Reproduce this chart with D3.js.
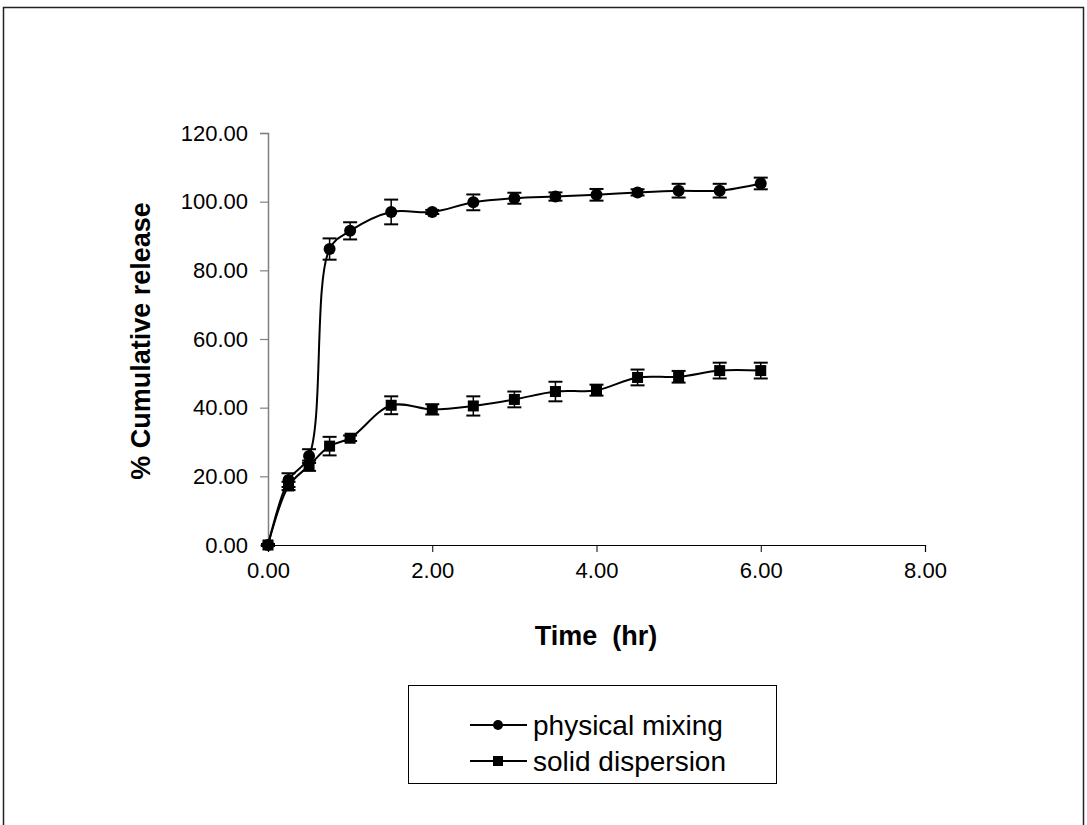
<!DOCTYPE html>
<html>
<head>
<meta charset="utf-8">
<script src="https://cdn.jsdelivr.net/npm/d3@7"></script>
<style>
  html, body { margin: 0; padding: 0; background: #fff; }
  svg { display: block; }
  text { font-family: "Liberation Sans", Arial, sans-serif; fill: #000; }
</style>
</head>
<body>
<svg id="chart" width="1087" height="825"></svg>
<script>
// Sampling times (hr)
const timePoints = [0, 0.25, 0.5, 0.75, 1, 1.5, 2, 2.5, 3, 3.5, 4, 4.5, 5, 5.5, 6];

// % cumulative release, physical mixing
const physicalMixing = [0, 18.9, 25.9, 86.2, 91.5, 97.0, 97.0, 99.8, 101.0, 101.5, 102.0, 102.7, 103.2, 103.2, 105.3];
const physicalMixingErr = [0.3, 2.0, 2.0, 3.1, 2.5, 3.6, 0.6, 2.3, 1.6, 1.2, 1.7, 0.9, 2.0, 2.0, 1.7];

// % cumulative release, solid dispersion
const solidDispersion = [0, 17.2, 23.1, 28.8, 31.1, 40.7, 39.5, 40.5, 42.4, 44.7, 45.1, 48.8, 49.0, 50.8, 50.8];
const solidDispersionErr = [0.3, 1.2, 1.5, 2.7, 0.8, 2.6, 1.5, 2.8, 2.3, 2.85, 1.6, 2.3, 1.7, 2.3, 2.3];

const xTicks = [0, 2, 4, 6, 8];
const yTicks = [0, 20, 40, 60, 80, 100, 120];
const seriesNames = ["physical mixing", "solid dispersion"];

const svg = d3.select("#chart");

// outer frame
svg.append("rect")
  .attr("x", 3.5).attr("y", 7.5)
  .attr("width", 1080).attr("height", 830)
  .attr("fill", "none").attr("stroke", "#222").attr("stroke-width", 1.5);

const x = d3.scaleLinear().domain([0, 8]).range([268, 925]);
const y = d3.scaleLinear().domain([0, 120]).range([545, 133]);

// y axis (grey)
const yAxis = svg.append("g")
  .attr("transform", `translate(${x(0)},0)`)
  .call(d3.axisLeft(y).tickValues(yTicks).tickFormat(d3.format(".2f")).tickSize(8).tickPadding(12));
yAxis.select(".domain").attr("stroke", "#808080").attr("stroke-width", 1.5);
yAxis.selectAll(".tick line").attr("stroke", "#808080").attr("stroke-width", 1.2);
yAxis.selectAll(".tick text")
  .attr("font-size", 22).attr("fill", "#000")
  .style("font-family", "'Liberation Sans', Arial, sans-serif");

// x axis (black)
const xAxis = svg.append("g")
  .attr("transform", `translate(0,${y(0)})`)
  .call(d3.axisBottom(x).tickValues(xTicks).tickFormat(d3.format(".2f")).tickSize(7).tickPadding(10));
xAxis.select(".domain").attr("stroke", "#000").attr("stroke-width", 1.2);
xAxis.selectAll(".tick line").attr("stroke", "#000").attr("stroke-width", 1);
xAxis.selectAll(".tick text")
  .attr("font-size", 22).attr("fill", "#000")
  .style("font-family", "'Liberation Sans', Arial, sans-serif");

// axis titles
svg.append("text")
  .attr("x", 596).attr("y", 645)
  .attr("text-anchor", "middle")
  .attr("font-size", 27).attr("font-weight", "bold")
  .attr("xml:space", "preserve")
  .text("Time  (hr)");

svg.append("text")
  .attr("transform", `translate(150,${(133 + 545) / 2 + 2}) rotate(-90)`)
  .attr("text-anchor", "middle")
  .attr("font-size", 27).attr("font-weight", "bold")
  .text("% Cumulative release");

// series
const series = [
  { name: seriesNames[0], values: physicalMixing, err: physicalMixingErr, shape: "circle" },
  { name: seriesNames[1], values: solidDispersion, err: solidDispersionErr, shape: "square" }
];

const line = d3.line()
  .x(d => x(d[0]))
  .y(d => y(d[1]))
  .curve(d3.curveCatmullRom.alpha(0.5));

const capHalf = 7;

series.forEach(s => {
  const pts = timePoints.map((t, i) => [t, s.values[i], s.err[i]]);
  const g = svg.append("g");

  g.append("path")
    .datum(pts)
    .attr("d", line)
    .attr("fill", "none")
    .attr("stroke", "#000")
    .attr("stroke-width", 2);

  // error bars
  const eb = g.selectAll(".eb").data(pts).join("g");
  eb.append("line")
    .attr("x1", d => x(d[0])).attr("x2", d => x(d[0]))
    .attr("y1", d => y(d[1] + d[2])).attr("y2", d => y(d[1] - d[2]))
    .attr("stroke", "#000").attr("stroke-width", 1.5);
  [1, -1].forEach(sgn => {
    eb.append("line")
      .attr("x1", d => x(d[0]) - capHalf).attr("x2", d => x(d[0]) + capHalf)
      .attr("y1", d => y(d[1] + sgn * d[2])).attr("y2", d => y(d[1] + sgn * d[2]))
      .attr("stroke", "#000").attr("stroke-width", 2);
  });

  // markers
  if (s.shape === "circle") {
    g.selectAll(".m").data(pts).join("circle")
      .attr("cx", d => x(d[0])).attr("cy", d => y(d[1]))
      .attr("r", 6).attr("fill", "#000");
  } else {
    g.selectAll(".m").data(pts).join("rect")
      .attr("x", d => x(d[0]) - 5.5).attr("y", d => y(d[1]) - 5.5)
      .attr("width", 11).attr("height", 11).attr("fill", "#000");
  }
});

// legend
const legend = svg.append("g");
legend.append("rect")
  .attr("x", 408.5).attr("y", 685.5)
  .attr("width", 368).attr("height", 98)
  .attr("fill", "#fff").attr("stroke", "#000").attr("stroke-width", 1);

series.forEach((s, i) => {
  const ly = 725 + i * 36;
  legend.append("line")
    .attr("x1", 470).attr("x2", 527).attr("y1", ly).attr("y2", ly)
    .attr("stroke", "#000").attr("stroke-width", 2);
  if (s.shape === "circle") {
    legend.append("circle").attr("cx", 498).attr("cy", ly).attr("r", 5).attr("fill", "#000");
  } else {
    legend.append("rect").attr("x", 493).attr("y", ly - 5).attr("width", 10).attr("height", 10).attr("fill", "#000");
  }
  legend.append("text")
    .attr("x", 533).attr("y", ly + 10)
    .attr("font-size", 28)
    .text(s.name);
});
</script>
</body>
</html>
